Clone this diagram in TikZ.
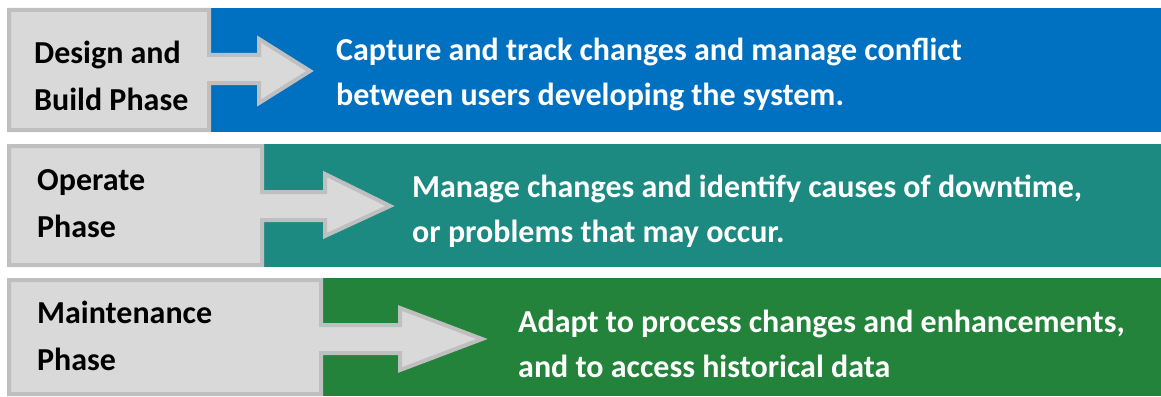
\documentclass[tikz,border=0pt]{standalone}
\usepackage{fontspec}
\setmainfont{Carlito}
\definecolor{bandblue}{HTML}{0070C0}
\definecolor{bandteal}{HTML}{1D8A82}
\definecolor{bandgreen}{HTML}{23833B}
\definecolor{phasefill}{HTML}{D9D9D9}
\definecolor{phaseline}{HTML}{BFBFBF}
\begin{document}
\begin{tikzpicture}[x=1pt,y=-1pt,
		phase/.style={fill=phasefill,draw=phaseline,line width=4pt,line join=miter},
		phaselabel/.style={anchor=base west,align=left,inner sep=0pt,text=black,font=\fontsize{32}{47}\selectfont\bfseries},
		task/.style={anchor=base west,align=left,inner sep=0pt,text=white,font=\fontsize{32}{45}\selectfont\bfseries}]
		\useasboundingbox (0,0) rectangle (1161,396);
		% design and build
		\fill[bandblue] (209,8) rectangle (1161,132);
		\draw[phase] (9,10) -- (209,10) -- (209,55) -- (259,55) -- (259,39) -- (310,71) -- (259,103) -- (259,83) -- (209,83) -- (209,130) -- (9,130) -- cycle;
		\node[phaselabel] (design) at (34,110) {Design and\\Build Phase};
		\node[task] (capture) at (336,105) {Capture and track changes and manage conflict\\between users developing the system.};
		% operate
		\fill[bandteal] (262,144) rectangle (1161,267);
		\draw[phase] (9,146) -- (262,146) -- (262,192) -- (325,192) -- (325,174) -- (390,206) -- (325,236) -- (325,220) -- (262,220) -- (262,265) -- (9,265) -- cycle;
		\node[phaselabel] (operate) at (37,237) {Operate\\Phase};
		\node[task] (manage) at (412,242) {Manage changes and identify causes of downtime,\\or problems that may occur.};
		% maintenance
		\fill[bandgreen] (321,278) rectangle (1161,396);
		\draw[phase] (9,280) -- (321,280) -- (321,325) -- (400,325) -- (400,308) -- (482,339) -- (400,370) -- (400,353) -- (321,353) -- (321,394) -- (9,394) -- cycle;
		\node[phaselabel] (maint) at (37,370) {Maintenance\\Phase};
		\node[task] (adapt) at (518,377) {Adapt to process changes and enhancements,\\and to access historical data};
	\end{tikzpicture}
\end{document}
